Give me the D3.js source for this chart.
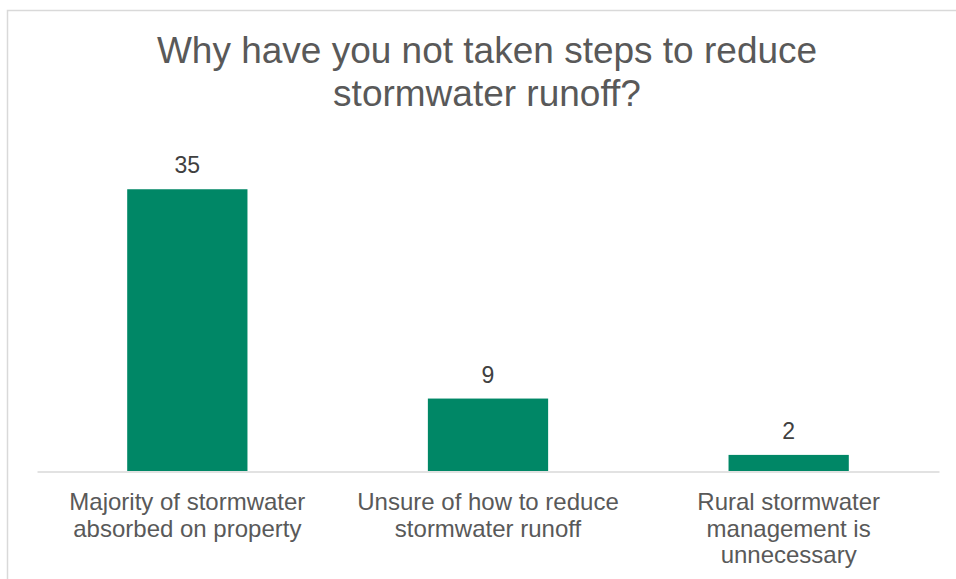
<!DOCTYPE html>
<html>
<head>
<meta charset="utf-8">
<script src="https://cdn.jsdelivr.net/npm/d3@7"></script>
<style>
  html, body { margin: 0; padding: 0; background: #ffffff; }
  svg { display: block; font-family: Arial, "Liberation Sans", sans-serif; }
</style>
</head>
<body>
<svg id="chart" width="956" height="579"></svg>
<script>
const titleLines = ["Why have you not taken steps to reduce", "stormwater runoff?"];
const categories = [
  "Majority of stormwater absorbed on property",
  "Unsure of how to reduce stormwater runoff",
  "Rural stormwater management is unnecessary"
];
const categoryLines = [
  ["Majority of stormwater", "absorbed on property"],
  ["Unsure of how to reduce", "stormwater runoff"],
  ["Rural stormwater", "management is", "unnecessary"]
];
const values = [35, 9, 2];
const yDomain = [0, 40];

const svg = d3.select("#chart");
const W = 956, H = 579;

// chart border
svg.append("rect")
  .attr("x", 7.5).attr("y", 10.5)
  .attr("width", W + 20).attr("height", H + 20)
  .attr("fill", "#ffffff")
  .attr("stroke", "#d9d9d9")
  .attr("stroke-width", 1.5);

const plotLeft = 37, plotRight = 939, plotBottom = 471, plotTop = 149;

const x = d3.scaleBand()
  .domain(categories)
  .range([plotLeft, plotRight])
  .paddingInner(0.6)
  .paddingOuter(0.3);

const y = d3.scaleLinear()
  .domain(yDomain)
  .range([plotBottom, plotTop]);

// title
const title = svg.append("text")
  .attr("x", 487)
  .attr("text-anchor", "middle")
  .attr("fill", "#595959")
  .style("font-size", "37px");
titleLines.forEach((t, i) => {
  title.append("tspan").attr("x", 487).attr("y", 63 + i * 43).text(t);
});

// bars
svg.append("g").selectAll("rect")
  .data(values)
  .join("rect")
  .attr("x", (d, i) => x(categories[i]))
  .attr("y", d => y(d))
  .attr("width", x.bandwidth())
  .attr("height", d => y(0) - y(d))
  .attr("fill", "#008766");

// value labels
svg.append("g").selectAll("text")
  .data(values)
  .join("text")
  .attr("x", (d, i) => x(categories[i]) + x.bandwidth() / 2)
  .attr("y", d => y(d) - 16)
  .attr("text-anchor", "middle")
  .attr("fill", "#404040")
  .style("font-size", "23px")
  .text(d => d);

// x axis
const xAxis = svg.append("g")
  .attr("transform", `translate(0,${plotBottom + 0.5})`)
  .call(d3.axisBottom(x).tickSize(0).tickSizeOuter(0).tickFormat(""));
xAxis.select(".domain").attr("stroke", "#d9d9d9").attr("stroke-width", 1.5);

xAxis.selectAll(".tick text").remove();
xAxis.selectAll(".tick").each(function(d, i) {
  const t = d3.select(this).append("text")
    .attr("text-anchor", "middle")
    .attr("fill", "#595959")
    .style("font-size", "24px")
    .style("font-family", "Arial, 'Liberation Sans', sans-serif");
  categoryLines[i].forEach((line, j) => {
    t.append("tspan").attr("x", 0).attr("y", 38.5 + j * 26.5).text(line);
  });
});
</script>
</body>
</html>
